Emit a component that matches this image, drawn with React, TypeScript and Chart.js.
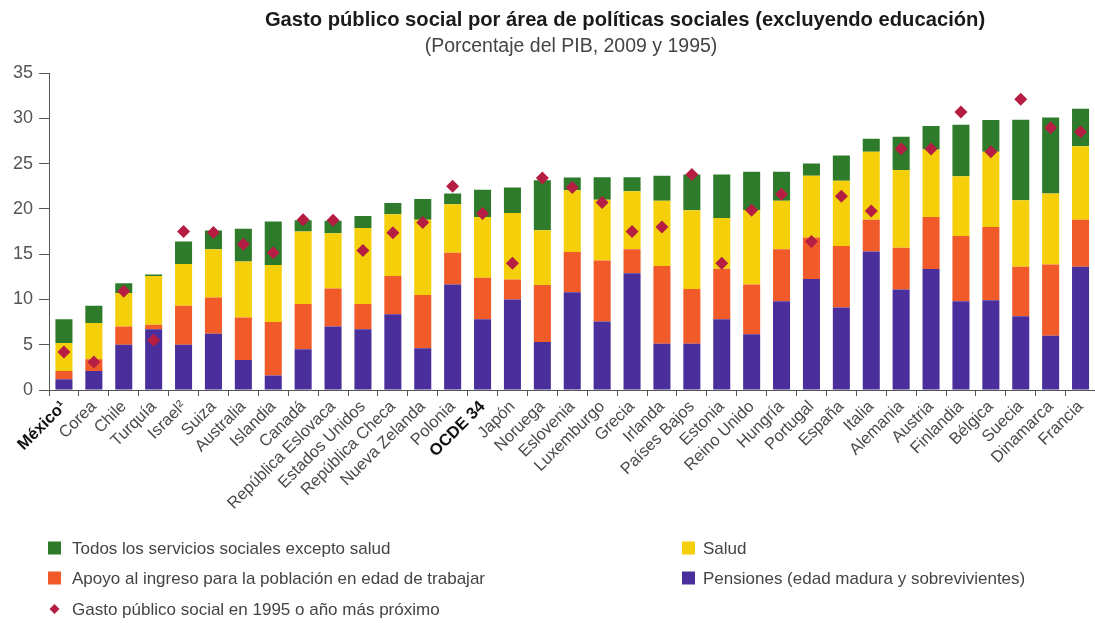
import React, { useEffect, useRef } from "react";
import { Chart, registerables } from "chart.js";

Chart.register(...registerables);

const FONT = "'Liberation Sans', Arial, Helvetica, sans-serif";

const countries = [
  "México¹", "Corea", "Chile", "Turquía", "Israel²", "Suiza", "Australia", "Islandia",
  "Canadá", "República Eslovaca", "Estados Unidos", "República Checa", "Nueva Zelanda",
  "Polonia", "OCDE 34", "Japón", "Noruega", "Eslovenia", "Luxemburgo", "Grecia",
  "Irlanda", "Países Bajos", "Estonia", "Reino Unido", "Hungría", "Portugal", "España",
  "Italia", "Alemania", "Austria", "Finlandia", "Bélgica", "Suecia", "Dinamarca", "Francia",
];

const boldLabels = ["México¹", "OCDE 34"];

// Pensiones (edad madura y sobrevivientes)
const pensiones = [
  1.2, 2.1, 5.0, 6.7, 5.0, 6.2, 3.3, 1.6, 4.5, 7.0, 6.7, 8.35, 4.6, 11.65, 7.8, 10.0, 5.3, 10.8,
  7.55, 12.9, 5.1, 5.1, 7.8, 6.15, 9.8, 12.25, 9.1, 15.3, 11.1, 13.35, 9.8, 9.9, 8.15, 6.0, 13.6,
];

// Apoyo al ingreso para la población en edad de trabajar
const apoyoIngreso = [
  0.9, 1.3, 2.0, 0.5, 4.3, 4.0, 4.7, 5.9, 5.0, 4.2, 2.8, 4.25, 5.9, 3.5, 4.6, 2.2, 6.3, 4.45,
  6.75, 2.65, 8.6, 6.05, 5.6, 5.5, 5.75, 4.6, 6.8, 3.5, 4.6, 5.75, 7.2, 8.1, 5.45, 7.85, 5.2,
];

// Salud
const salud = [
  3.1, 4.0, 3.7, 5.4, 4.6, 5.35, 6.2, 6.3, 8.0, 6.1, 8.4, 6.8, 8.3, 5.35, 6.7, 7.35, 6.05, 6.8,
  6.7, 6.4, 7.2, 8.7, 5.6, 8.2, 5.35, 6.8, 7.2, 7.5, 8.6, 7.45, 6.6, 8.3, 7.35, 7.85, 8.1,
];

// Todos los servicios sociales excepto salud
const serviciosSociales = [
  2.6, 1.9, 1.1, 0.15, 2.5, 2.05, 3.6, 4.8, 1.25, 1.4, 1.3, 1.25, 2.3, 1.2, 3.0, 2.8, 5.5, 1.4,
  2.5, 1.55, 2.75, 3.95, 4.8, 4.25, 3.2, 1.35, 2.8, 1.45, 3.65, 2.6, 5.7, 3.5, 8.9, 8.4, 4.15,
];

// Gasto público social en 1995 o año más próximo
const gasto1995 = [
  4.2, 3.1, 10.9, 5.5, 17.5, 17.4, 16.1, 15.15, 18.8, 18.75, 15.4, 17.35, 18.5, 22.5, 19.5, 14.0,
  23.4, 22.35, 20.7, 17.5, 18.0, 23.8, 14.0, 19.85, 21.6, 16.4, 21.4, 19.75, 26.65, 26.6, 30.7,
  26.3, 32.1, 28.95, 28.5,
];

const yTicks = [0, 5, 10, 15, 20, 25, 30, 35];

const COLORS = {
  pensiones: "#4a2f9c",
  apoyo: "#f15a29",
  salud: "#f5d00a",
  servicios: "#2e7b2c",
  diamond: "#b51d43",
};

const titleText = "Gasto público social por área de políticas sociales (excluyendo educación)";
const subtitleText = "(Porcentaje del PIB, 2009 y 1995)";

const legendItems = [
  { label: "Todos los servicios sociales excepto salud", color: COLORS.servicios, shape: "square", x: 48, y: 548 },
  { label: "Apoyo al ingreso para la población en edad de trabajar", color: COLORS.apoyo, shape: "square", x: 48, y: 578 },
  { label: "Gasto público social en 1995 o año más próximo", color: COLORS.diamond, shape: "diamond", x: 48, y: 609 },
  { label: "Salud", color: COLORS.salud, shape: "square", x: 682, y: 548 },
  { label: "Pensiones (edad madura y sobrevivientes)", color: COLORS.pensiones, shape: "square", x: 682, y: 578 },
];

const decorPlugin = {
  id: "decor",
  afterDraw(chart: any) {
    const ctx = chart.ctx;
    ctx.save();
    ctx.textBaseline = "middle";
    ctx.textAlign = "center";
    ctx.fillStyle = "#1a1a1a";
    ctx.font = `bold 20.2px ${FONT}`;
    ctx.fillText(titleText, 625, 20);
    ctx.fillStyle = "#444";
    ctx.font = `19.5px ${FONT}`;
    ctx.fillText(subtitleText, 571, 47);

    ctx.textAlign = "left";
    ctx.font = `17px ${FONT}`;
    for (const item of legendItems) {
      ctx.fillStyle = item.color;
      if (item.shape === "square") {
        ctx.fillRect(item.x, item.y - 6.5, 13, 13);
      } else {
        const cx = item.x + 6.5;
        ctx.beginPath();
        ctx.moveTo(cx, item.y - 5);
        ctx.lineTo(cx + 5, item.y);
        ctx.lineTo(cx, item.y + 5);
        ctx.lineTo(cx - 5, item.y);
        ctx.closePath();
        ctx.fill();
      }
      ctx.fillStyle = "#444";
      ctx.fillText(item.label, item.x + (item.x > 300 ? 21 : 24), item.y + 1);
    }
    ctx.restore();
  },
};

export default function App() {
  const canvasRef = useRef<HTMLCanvasElement | null>(null);

  useEffect(() => {
    if (!canvasRef.current) return;
    const barCommon = { stack: "gasto", order: 1, barPercentage: 0.57, categoryPercentage: 1 };
    const chart = new Chart(canvasRef.current, {
      type: "bar",
      data: {
        labels: countries,
        datasets: [
          { ...barCommon, label: "Pensiones (edad madura y sobrevivientes)", data: pensiones, backgroundColor: COLORS.pensiones },
          { ...barCommon, label: "Apoyo al ingreso para la población en edad de trabajar", data: apoyoIngreso, backgroundColor: COLORS.apoyo },
          { ...barCommon, label: "Salud", data: salud, backgroundColor: COLORS.salud },
          { ...barCommon, label: "Todos los servicios sociales excepto salud", data: serviciosSociales, backgroundColor: COLORS.servicios },
          {
            type: "line",
            label: "Gasto público social en 1995 o año más próximo",
            data: gasto1995,
            stack: "1995",
            order: 0,
            showLine: false,
            pointStyle: "rectRot",
            pointRadius: 6.5,
            pointBackgroundColor: COLORS.diamond,
            pointBorderColor: COLORS.diamond,
            pointBorderWidth: 0,
          } as any,
        ],
      },
      options: {
        animation: false,
        responsive: true,
        maintainAspectRatio: false,
        layout: { padding: { top: 73, left: 0, right: 0, bottom: 0 } },
        plugins: {
          legend: { display: false },
          title: { display: false },
          tooltip: { enabled: false },
        },
        scales: {
          x: {
            stacked: true,
            afterFit: (scale: any) => {
              scale.height = 233;
              scale.paddingLeft = 0;
              scale.paddingRight = 0;
            },
            grid: {
              offset: true,
              drawOnChartArea: false,
              drawTicks: true,
              tickLength: 6,
              color: "#555",
            },
            border: { color: "#555", width: 1 },
            ticks: {
              autoSkip: false,
              minRotation: 45,
              maxRotation: 45,
              padding: 1,
              color: (c: any) => (boldLabels.includes(countries[c.index]) ? "#111" : "#4a4a4a"),
              font: (c: any) => ({
                family: FONT,
                size: 16.5,
                weight: boldLabels.includes(countries[c.index]) ? "bold" : "normal",
              }),
            },
          },
          y: {
            stacked: true,
            min: 0,
            max: 35,
            afterFit: (scale: any) => {
              scale.width = 49;
            },
            afterBuildTicks: (scale: any) => {
              scale.ticks = yTicks.map((v) => ({ value: v }));
            },
            grid: {
              drawOnChartArea: false,
              drawTicks: true,
              tickLength: 10,
              color: "#555",
            },
            border: { color: "#555", width: 1 },
            ticks: {
              padding: 6,
              color: "#555",
              font: { family: FONT, size: 18 },
            },
          },
        },
      },
      plugins: [decorPlugin],
    });
    return () => chart.destroy();
  }, []);

  return (
    <div style={{ position: "absolute", left: 0, top: 0, width: 1095, height: 623, overflow: "hidden", background: "#fff" }}>
      <div style={{ position: "relative", width: 1102, height: 623 }}>
        <canvas ref={canvasRef} />
      </div>
    </div>
  );
}
